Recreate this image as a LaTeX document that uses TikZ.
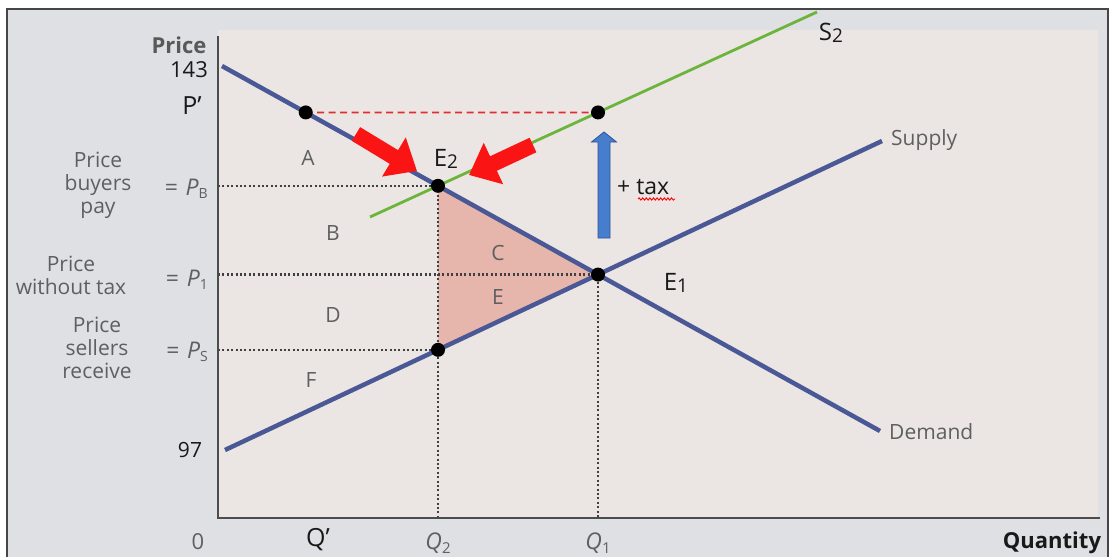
\documentclass[tikz,border=0pt]{standalone}
\usepackage{fontspec}
\setmainfont{Open Sans}
\usetikzlibrary{arrows.meta,decorations.pathmorphing}
\definecolor{bgpage}{RGB}{222,224,227}
\definecolor{bgplot}{RGB}{235,230,228}
\definecolor{curve}{RGB}{74,88,150}
\definecolor{stwo}{RGB}{108,180,60}
\definecolor{tri}{RGB}{230,182,172}
\definecolor{lbl}{RGB}{95,95,95}
\definecolor{redarr}{RGB}{250,20,20}
\definecolor{dashred}{RGB}{225,45,45}
\definecolor{bluearr}{RGB}{70,125,205}
\definecolor{bluedge}{RGB}{45,85,150}
\definecolor{framec}{RGB}{70,70,70}
\begin{document}
\begin{tikzpicture}[x=1pt,y=-1pt,
  every node/.style={inner sep=0pt, font=\fontsize{21}{24}\selectfont},
  side/.style={text=lbl, align=center, font=\fontsize{21}{23}\selectfont},
  eqlab/.style={text=lbl, anchor=east, font=\fontsize{23}{24}\selectfont},
  region/.style={text=lbl, font=\fontsize{21}{24}\selectfont},
  dark/.style={text=black!90},
  curveline/.style={line width=4.5pt, color=curve},
  taxcurve/.style={line width=2.8pt, color=stwo},
  guide/.style={line width=2.2pt, color=black!75, dash pattern=on 2pt off 2.4pt},
  redguide/.style={line width=1.8pt, color=dashred, dash pattern=on 7pt off 4.5pt},
  dot/.style={circle, fill=black, minimum size=14pt, inner sep=0pt},
  bigred/.style={line width=16pt, color=redarr, -{Triangle[width=44pt,length=27pt]}},
  axisline/.style={line width=1.3pt, color=black!70},
]
\useasboundingbox (0,0) rectangle (1112,557);
% backgrounds
\fill[white] (0,0) rectangle (1112,557);
\fill[bgpage] (7,9) rectangle (1108,557);
\fill[bgplot] (218,30) rectangle (1098,518);
\draw[framec, line width=1.5pt] (7,557) -- (7,9) -- (1108,9) -- (1108,557);
% geometry
\coordinate (O) at (218,518);
\coordinate (Ytop) at (218,36);
\coordinate (Xend) at (1100,518);
\coordinate (D0) at (222,66);
\coordinate (D1) at (880,431);
\coordinate (S0) at (225,450);
\coordinate (S1) at (882,141);
\coordinate (T0) at (370,217);
\coordinate (T1) at (817,12);
\coordinate (E1) at (intersection of D0--D1 and S0--S1);
\coordinate (E2) at (intersection of D0--D1 and T0--T1);
\coordinate (Q1f) at (E1 |- O);
\coordinate (Q2f) at (E2 |- O);
\coordinate (Ps) at (intersection of E2--Q2f and S0--S1);
\coordinate (Sq) at (intersection of E1--Q1f and T0--T1);
\coordinate (SqL) at (Sq -| O);
\coordinate (Pp) at (intersection of D0--D1 and Sq--SqL);
% shaded triangle
\fill[tri] (E2) -- (E1) -- (Ps) -- cycle;
% guides
\draw[guide] (E2 -| O) -- (E2) -- (Q2f);
\draw[guide] (E1 -| O) -- (E1) -- (Q1f);
\draw[guide] (Ps -| O) -- (Ps);
% axes
\draw[axisline] (Ytop) -- (O) -- (Xend);
% curves
\draw[taxcurve] (T0) -- (T1);
\draw[curveline] (D0) -- (D1);
\draw[curveline] (S0) -- (S1);
\draw[redguide] (Pp) -- (Sq);
% red arrows
\draw[bigred] (356,134) -- (417,171);
\draw[bigred] (533,145) -- (469,175);
% dots
\node[dot] (nE1) at (E1) {};
\node[dot] (nE2) at (E2) {};
\node[dot] (nPs) at (Ps) {};
\node[dot] (nSq) at (Sq) {};
\node[dot] (nPp) at (Pp) {};
% blue tax arrow
\filldraw[fill=bluearr, draw=bluedge, line width=0.8pt]
  (598,238) -- (598,142) -- (591.5,142) -- (604,132) -- (616.5,142) -- (610,142) -- (610,238) -- cycle;
\node[dark, anchor=west, font=\fontsize{23}{26}\selectfont] (taxlab) at (617,187) {+ tax};
\draw[red, line width=0.9pt, decorate, decoration={snake, amplitude=1.1pt, segment length=3.6pt}] (638,199) -- (675,199);
% axis labels
\node[text=black!65, font=\bfseries\fontsize{22}{24}\selectfont] (pricelab) at (179,45) {Price};
\node[dark, font=\fontsize{22}{24}\selectfont] (n143) at (189,70) {143};
\node[dark, font=\fontsize{25}{28}\selectfont] (pprime) at (192,106) {P’};
\node[side] (buyers) at (98,185) {Price\\buyers\\pay};
\node[side] (without) at (71,275) {Price\\without tax};
\node[side] (sellers) at (97,348) {Price\\sellers\\receive};
\node[eqlab] (pb) at (208,189) {=\,\,{\itshape P}{\fontsize{14}{14}\selectfont\raisebox{-3pt}{B}}};
\node[eqlab] (p1) at (208,280) {=\,\,{\itshape P}{\fontsize{14}{14}\selectfont\raisebox{-3pt}{1}}};
\node[eqlab] (ps) at (208,352) {=\,\,{\itshape P}{\fontsize{14}{14}\selectfont\raisebox{-3pt}{S}}};
\node[dark, font=\fontsize{21}{24}\selectfont] (n97) at (190,450) {97};
\node[text=lbl, font=\fontsize{22}{24}\selectfont] (n0) at (198,542) {0};
\node[dark, font=\fontsize{25}{28}\selectfont] (qprime) at (318,540) {Q’};
\node[text=lbl, font=\fontsize{23}{26}\selectfont] (q2) at (Q2f |- 0,543) {{\itshape Q}{\fontsize{15}{15}\selectfont\raisebox{-4pt}{2}}};
\node[text=lbl, font=\fontsize{23}{26}\selectfont] (q1) at (Q1f |- 0,543) {{\itshape Q}{\fontsize{15}{15}\selectfont\raisebox{-4pt}{1}}};
\node[dark, font=\bfseries\fontsize{22}{24}\selectfont] (qty) at (1052,543) {Quantity};
% curve labels
\node[text=lbl, anchor=west, font=\fontsize{21}{24}\selectfont] (supply) at (891,140) {Supply};
\node[text=lbl, anchor=west, font=\fontsize{21}{24}\selectfont] (demand) at (889,432) {Demand};
\node[dark, font=\fontsize{24}{26}\selectfont] (s2) at (831,33) {S{\fontsize{19}{19}\selectfont\raisebox{-2pt}{2}}};
\node[dark, font=\fontsize{24}{26}\selectfont] (e2) at (446,159) {E{\fontsize{19}{19}\selectfont\raisebox{-2pt}{2}}};
\node[dark, font=\fontsize{24}{26}\selectfont] (e1) at (676,283) {E{\fontsize{19}{19}\selectfont\raisebox{-2pt}{1}}};
% region letters
\node[region] (ra) at (308,158) {A};
\node[region] (rb) at (333,233) {B};
\node[region] (rc) at (498,253) {C};
\node[region] (rd) at (333,315) {D};
\node[region] (re) at (498,297) {E};
\node[region] (rf) at (311,380) {F};
\end{tikzpicture}
\end{document}
